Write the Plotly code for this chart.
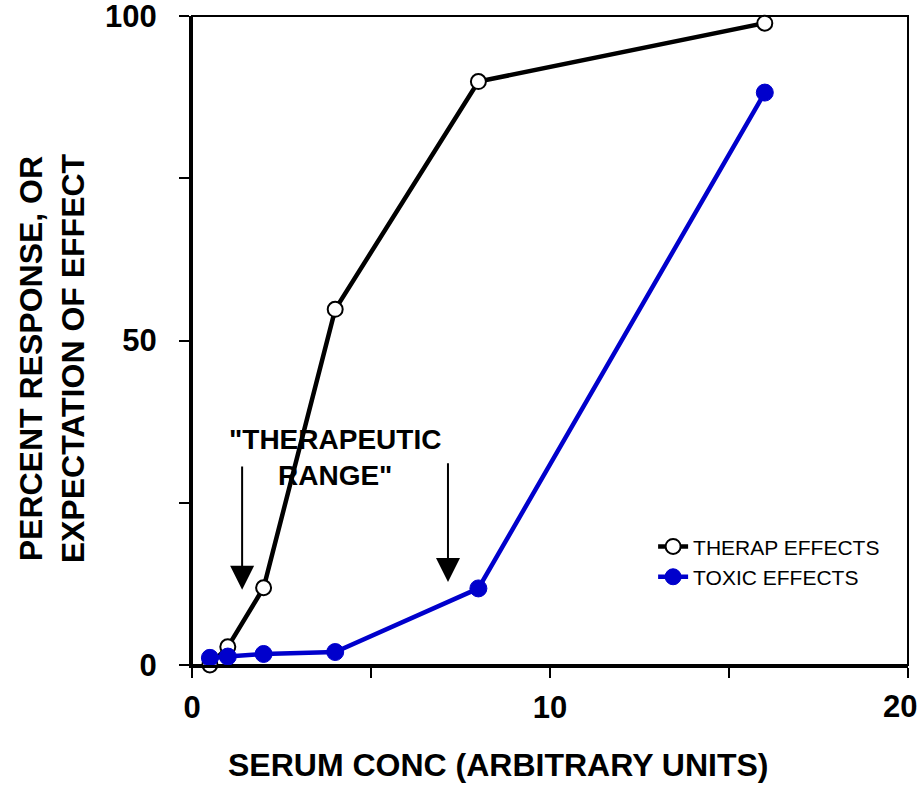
import plotly.graph_objects as go

conc = [0.5, 1, 2, 4, 8, 16]
therap = [0, 2.8, 11.9, 54.8, 89.9, 98.9]
toxic = [1.1, 1.3, 1.7, 2.0, 11.8, 88.2]
x_ticks = [0, 10, 20]
y_ticks = [0, 50, 100]
arrow_x = [1.4, 7.15]
arrow_head_y = [11.6, 12.8]
arrow_tail_y = [30.8, 31.3]

FONT = "Arial, Liberation Sans, sans-serif"

fig = go.Figure()
fig.add_trace(go.Scatter(
    x=conc, y=therap, mode="lines+markers", name="THERAP EFFECTS",
    line=dict(color="black", width=4.5),
    marker=dict(symbol="circle", size=15, color="white", line=dict(color="black", width=2)),
    cliponaxis=False))
fig.add_trace(go.Scatter(
    x=conc, y=toxic, mode="lines+markers", name="TOXIC EFFECTS",
    line=dict(color="#0000cc", width=4.5),
    marker=dict(symbol="circle", size=17, color="#0000cc", line=dict(color="#0000cc", width=1)),
    cliponaxis=False))

for xa, yh, yt in zip(arrow_x, arrow_head_y, arrow_tail_y):
    fig.add_annotation(x=xa, y=yh, ax=xa, ay=yt, xref="x", yref="y", axref="x", ayref="y",
                       text="", showarrow=True, arrowhead=2, arrowsize=2.4, arrowwidth=2,
                       arrowcolor="black")

fig.add_annotation(x=4.0, y=32.0, xref="x", yref="y", text="<b>\"THERAPEUTIC<br>RANGE\"</b>",
                   showarrow=False, font=dict(family=FONT, size=28, color="black"),
                   align="center", xanchor="center", yanchor="middle")

fig.add_annotation(x=-0.196, y=0.472, xref="paper", yref="paper",
                   text="<b>PERCENT RESPONSE, OR<br>EXPECTATION OF EFFECT</b>",
                   textangle=-90, showarrow=False, xanchor="center", yanchor="middle",
                   font=dict(family=FONT, size=32, color="black"))
fig.add_annotation(x=0.427, y=-0.154, xref="paper", yref="paper",
                   text="<b>SERUM CONC (ARBITRARY UNITS)</b>",
                   showarrow=False, xanchor="center", yanchor="middle",
                   font=dict(family=FONT, size=32, color="black"))

fig.add_shape(type="rect", xref="paper", yref="paper", x0=0, x1=1, y0=0, y1=1,
              line=dict(color="black", width=2), layer="below")

tick_font = dict(family=FONT, size=31, color="black", weight="bold")

# last x tick label is drawn as an annotation so it stays inside the page edge
x_ticktext = [str(v) for v in x_ticks[:-1]] + [""]
fig.add_annotation(x=x_ticks[-1], y=0, xref="x", yref="paper", text=str(x_ticks[-1]),
                   showarrow=False, xanchor="center", yanchor="top", xshift=-8, yshift=-22,
                   font=tick_font)

fig.update_layout(
    width=921, height=785,
    margin=dict(l=192, r=13, t=16, b=120, autoexpand=False),
    plot_bgcolor="white", paper_bgcolor="white",
    font=dict(family=FONT, color="black"),
    showlegend=True,
    legend=dict(x=0.644, y=0.159, xanchor="left", yanchor="middle",
                font=dict(family=FONT, size=21, color="black"),
                bgcolor="rgba(0,0,0,0)", itemwidth=30),
    xaxis=dict(range=[0, 20], tickvals=x_ticks, ticktext=x_ticktext,
               showgrid=False, zeroline=False, showline=True, linecolor="black", linewidth=3,
               ticks="outside", ticklen=10, tickwidth=2, tickcolor="black",
               tickfont=tick_font, ticklabelstandoff=3, automargin=False,
               ticklabeloverflow="allow",
               minor=dict(dtick=5, ticks="outside", ticklen=10, tickwidth=2, tickcolor="black")),
    yaxis=dict(range=[0, 100], tickvals=y_ticks, ticktext=[str(v) for v in y_ticks],
               showgrid=False, zeroline=False, showline=True, linecolor="black", linewidth=3,
               ticks="outside", ticklen=10, tickwidth=2, tickcolor="black",
               tickfont=tick_font, ticklabelstandoff=16, automargin=False,
               ticklabeloverflow="allow",
               minor=dict(dtick=25, ticks="outside", ticklen=10, tickwidth=2, tickcolor="black")),
)

fig.write_html("out.html", config={"displayModeBar": False},
               post_script="document.body.style.margin='0';document.body.style.overflow='hidden';")
